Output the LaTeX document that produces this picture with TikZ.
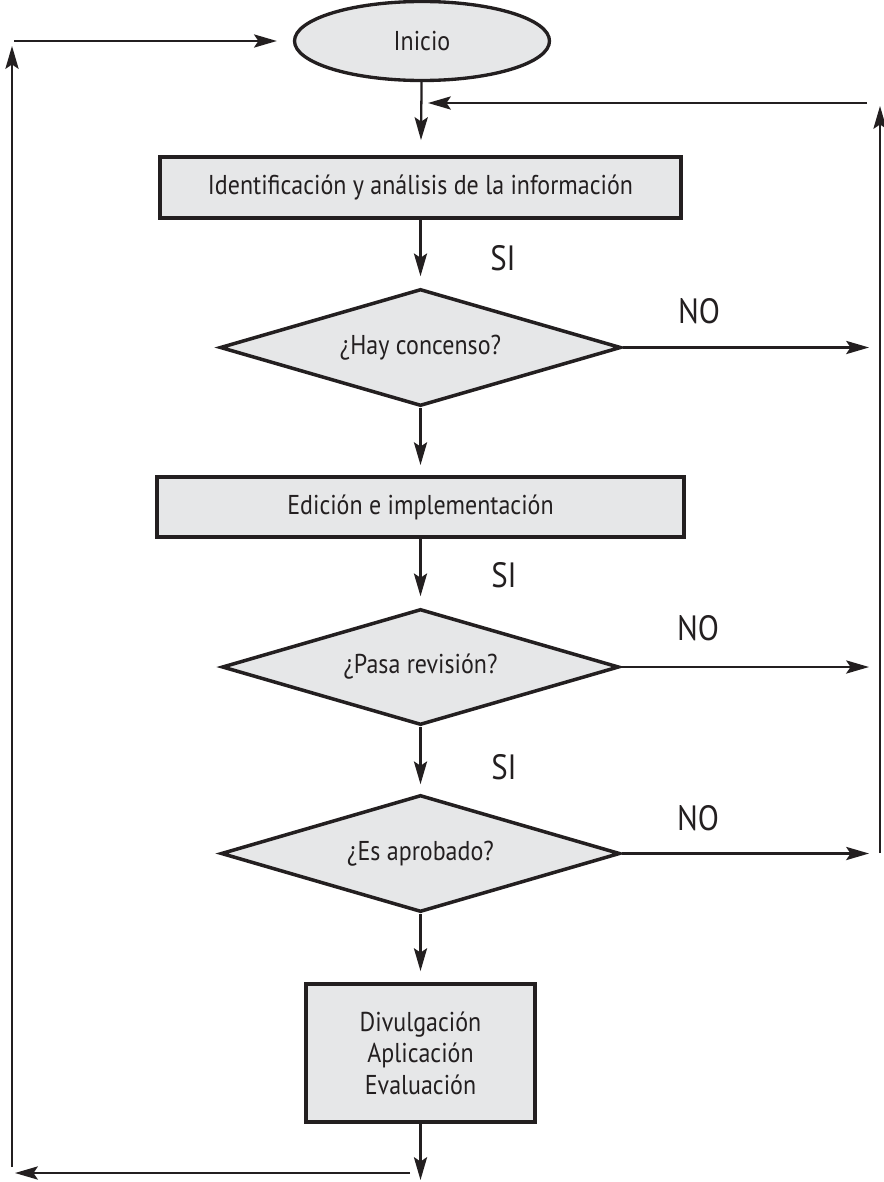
\documentclass[tikz,border=0pt]{standalone}
\usepackage{fontspec}
\setmainfont{PT Sans}[FakeStretch=0.88]
\usetikzlibrary{shapes.geometric,arrows.meta}
\definecolor{boxgray}{HTML}{E6E7E8}
\definecolor{ink}{HTML}{231F20}

\begin{document}
\begin{tikzpicture}[
  font=\fontsize{15.5}{18}\selectfont,
  proc/.style={rectangle, draw=ink, fill=boxgray, line width=2.2pt, inner sep=0pt, text=ink},
  ask/.style={diamond, draw=ink, fill=boxgray, line width=2pt, inner sep=0pt, aspect=3.4, text=ink},
  link/.style={-{Stealth[length=13pt,width=7.5pt,inset=2.5pt]}, draw=ink, line width=1.3pt},
  answer/.style={font=\fontsize{20}{24}\selectfont, text=ink, inner sep=0pt}
]
  \useasboundingbox (0,0) rectangle (17.68,-23.64);
  % Nodes
  \node (inicio) [ellipse, draw=ink, fill=boxgray, line width=1.9pt, minimum width=5.1cm, minimum height=1.58cm, text=ink] at (8.44,-0.82) {Inicio};
  \node (ident) [proc, minimum width=10.42cm, minimum height=1.22cm] at (8.41,-3.75) {Identificación y análisis de la información};
  \node (consenso) [ask, minimum width=8.02cm, minimum height=2.34cm] at (8.41,-6.95) {¿Hay concenso?};
  \node (edicion) [proc, minimum width=10.54cm, minimum height=1.2cm] at (8.41,-10.14) {Edición e implementación};
  \node (revision) [ask, minimum width=7.94cm, minimum height=2.32cm] at (8.41,-13.34) {¿Pasa revisión?};
  \node (aprobado) [ask, minimum width=7.98cm, minimum height=2.34cm] at (8.41,-17.07) {¿Es aprobado?};
  \node (divulga) [proc, minimum width=4.58cm, minimum height=2.76cm, align=center] at (8.41,-21.06) {Divulgación\\Aplicación\\Evaluación};
  % Labels
  \node (si-1) [answer] at (10.06,-5.16) {SI};
  \node (si-2) [answer] at (10.08,-11.5) {SI};
  \node (si-3) [answer] at (10.08,-15.34) {SI};
  \node (no-1) [answer] at (13.98,-6.22) {NO};
  \node (no-2) [answer] at (13.96,-12.56) {NO};
  \node (no-3) [answer] at (13.96,-16.36) {NO};
  % Loose ends
  \coordinate (no-1-end) at (17.38,-6.95);
  \coordinate (no-2-end) at (17.38,-13.34);
  \coordinate (no-3-end) at (17.38,-17.07);
  \coordinate (right-bot) at (17.6,-17.06);
  \coordinate (right-top) at (17.6,-2.12);
  \coordinate (back-start) at (17.34,-2.06);
  \coordinate (back-end) at (8.56,-2.06);
  \coordinate (left-bot) at (0.24,-23.34);
  \coordinate (left-top) at (0.24,-0.92);
  \coordinate (start) at (0.28,-0.82);
  \coordinate (exit) at (8.41,-23.6);
  \coordinate (out-start) at (8.2,-23.46);
  \coordinate (out-end) at (0.3,-23.46);
  % Arrow
  \draw[link, shorten >=0.3cm] (inicio) -- (ident);
  \draw[link, shorten >=0.22cm] (ident) -- (consenso);
  \draw[link, shorten >=0.2cm] (consenso) -- (edicion);
  \draw[link, shorten >=0.22cm] (edicion) -- (revision);
  \draw[link, shorten >=0.18cm] (revision) -- (aprobado);
  \draw[link, shorten >=0.22cm] (aprobado) -- (divulga);
  \draw[link] (divulga) -- (exit);
  \draw[link] (consenso) -- (no-1-end);
  \draw[link] (revision) -- (no-2-end);
  \draw[link] (aprobado) -- (no-3-end);
  \draw[link] (right-bot) -- (right-top);
  \draw[link] (back-start) -- (back-end);
  \draw[link] (left-bot) -- (left-top);
  \draw[link, shorten >=0.32cm] (start) -- (inicio);
  \draw[link] (out-start) -- (out-end);
\end{tikzpicture}
\end{document}
